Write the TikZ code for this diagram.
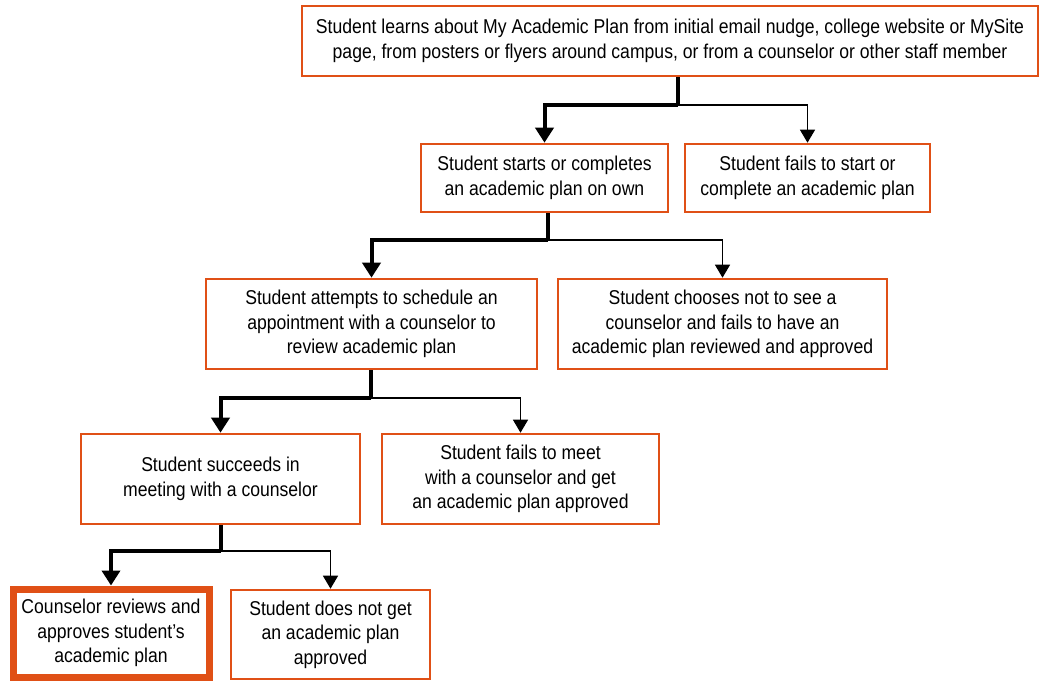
\documentclass[tikz,border=0pt]{standalone}
\usepackage{fontspec}
\setmainfont{Liberation Sans}[FakeStretch=0.88]
\usetikzlibrary{arrows.meta,calc}
\definecolor{boxorange}{RGB}{224,80,22}
\begin{document}
\begin{tikzpicture}[x=1pt,y=-1pt,
  box/.style={draw=boxorange,line width=2.6pt,fill=white,inner sep=0pt,
    align=center,font=\fontsize{20}{24.5}\selectfont},
  keybox/.style={box,line width=7pt},
  mainflow/.style={line width=4pt,-{Triangle[width=18pt,length=15pt]}},
  sideflow/.style={line width=1.3pt,-{Triangle[width=15pt,length=13pt]}}]
\useasboundingbox (0,0) rectangle (1040,681);

% boxes, placed by centre and size
\node[box,minimum width=736pt,minimum height=70pt] (learn) at (670,41)
  {Student learns about My Academic Plan from initial email nudge, college website or MySite\\
   page, from posters or flyers around campus, or from a counselor or other staff member};
\node[box,minimum width=247pt,minimum height=68pt] (start) at (544.5,178)
  {Student starts or completes\\an academic plan on own};
\node[box,minimum width=245pt,minimum height=68pt] (nostart) at (807.5,178)
  {Student fails to start or\\complete an academic plan};
\node[box,minimum width=331pt,minimum height=90pt] (attempt) at (371.5,324)
  {Student attempts to schedule an\\appointment with a counselor to\\review academic plan};
\node[box,minimum width=329pt,minimum height=90pt] (nosee) at (722.5,324)
  {Student chooses not to see a\\counselor and fails to have an\\academic plan reviewed and approved};
\node[box,minimum width=279pt,minimum height=90pt] (meet) at (220.5,479)
  {Student succeeds in\\meeting with a counselor};
\node[box,minimum width=277pt,minimum height=90pt] (nomeet) at (520.5,479)
  {Student fails to meet\\with a counselor and get\\an academic plan approved};
\node[keybox,minimum width=196pt,minimum height=88pt] (approve) at (111,633)
  {Counselor reviews and\\approves student's\\academic plan};
\node[box,minimum width=199pt,minimum height=89pt] (noapprove) at (330.5,634.5)
  {Student does not get\\an academic plan\\approved};

% branch points
\coordinate (j1) at (678,105);
\coordinate (j2) at (548,240);
\coordinate (j3) at (371,398);
\coordinate (j4) at (221,551);

% connectors
\draw[line width=4pt] (learn.south -| j1) -- (j1);
\draw[mainflow] (j1) -| (start.north);
\draw[sideflow] (j1) -| (nostart.north);

\draw[line width=4pt] (start.south -| j2) -- (j2);
\draw[mainflow] (j2) -| (attempt.north);
\draw[sideflow] (j2) -| (nosee.north);

\draw[line width=4pt] (attempt.south -| j3) -- (j3);
\draw[mainflow] (j3) -| (meet.north);
\draw[sideflow] (j3) -| (nomeet.north);

\draw[line width=4pt] (meet.south -| j4) -- (j4);
\draw[mainflow] (j4) -| (approve.north);
\draw[sideflow] (j4) -| (noapprove.north);
\end{tikzpicture}
\end{document}
